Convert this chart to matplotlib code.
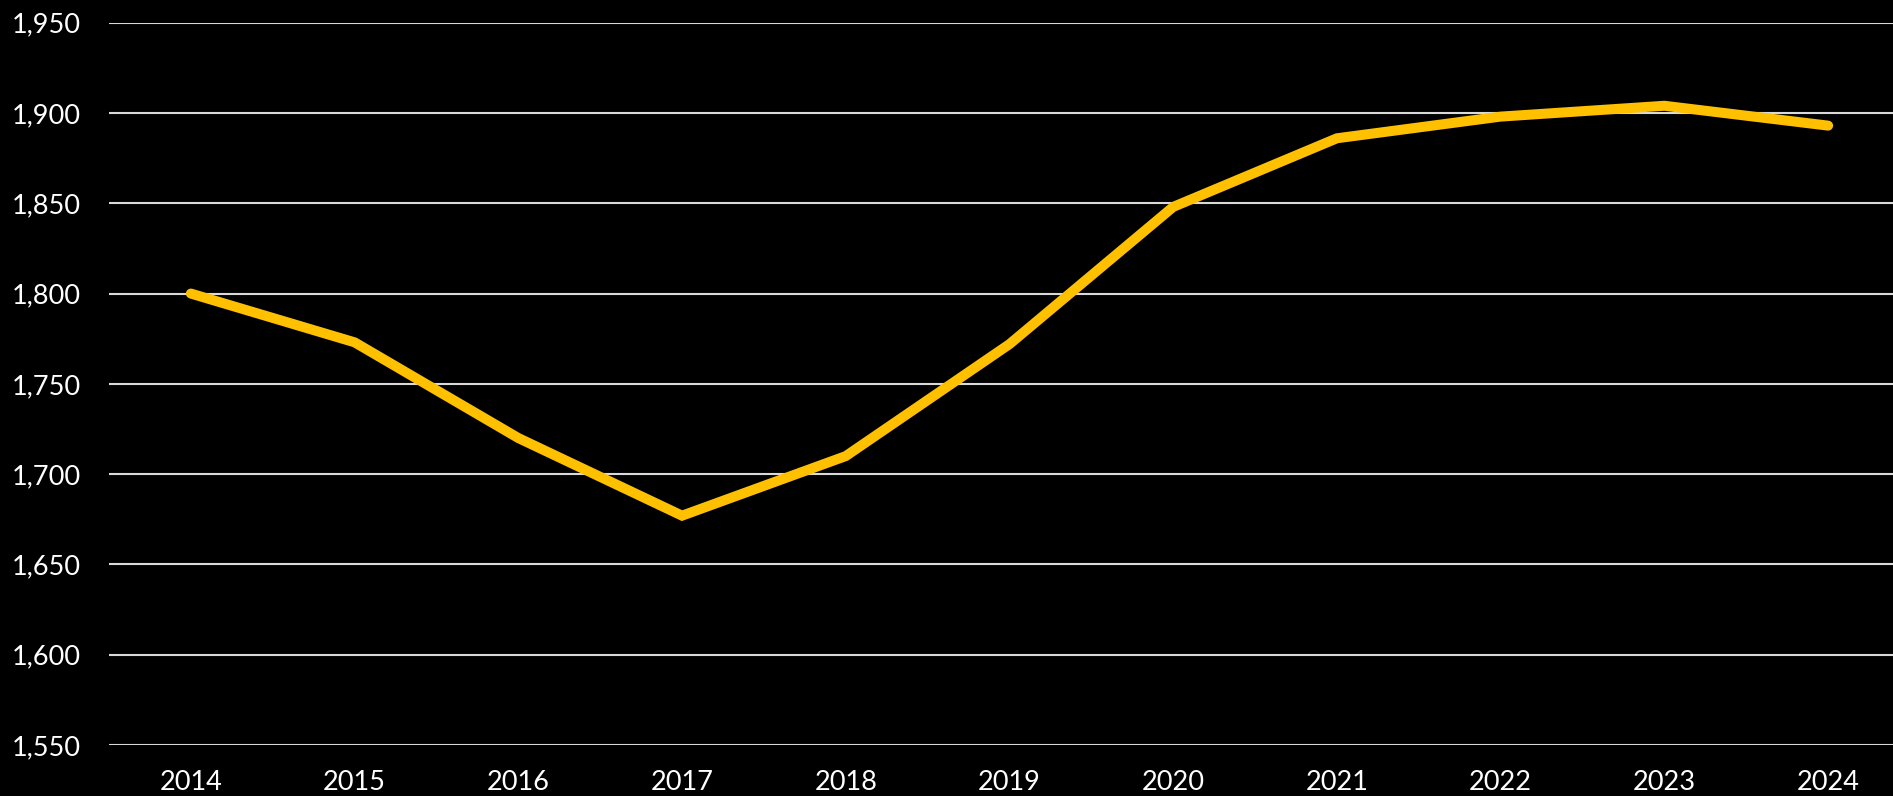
import matplotlib
matplotlib.use('Agg')
import matplotlib.pyplot as plt
from matplotlib.ticker import FuncFormatter

years = ['2014', '2015', '2016', '2017', '2018', '2019', '2020', '2021', '2022', '2023', '2024']
values = [1800, 1773, 1720, 1677, 1710, 1772, 1848, 1886, 1898, 1904, 1893]
y_ticks = [1550, 1600, 1650, 1700, 1750, 1800, 1850, 1900, 1950]

plt.rcParams['font.family'] = ['Lato', 'DejaVu Sans']

fig = plt.figure(figsize=(18.93, 7.96), dpi=100, facecolor='black')
ax = fig.add_axes([109 / 1893, 51 / 796, 1801 / 1893, 722.3 / 796])
ax.set_facecolor('black')

x = list(range(len(years)))
ax.plot(x, values, color='#FFC000', linewidth=7.2, solid_capstyle='round',
        solid_joinstyle='miter', zorder=3)

ax.set_xlim(-0.5, len(years) - 0.5)
ax.set_ylim(1550, 1950)
ax.set_yticks(y_ticks)
ax.yaxis.set_major_formatter(FuncFormatter(lambda v, p: '{:,.0f}'.format(v)))
ax.set_xticks(x)
ax.set_xticklabels(years)

ax.grid(axis='y', color='#D9D9D9', linewidth=1.5, zorder=1)
ax.set_axisbelow(True)
for s in ax.spines.values():
    s.set_visible(False)
ax.tick_params(axis='both', length=0, colors='white', labelsize=19.5)
ax.tick_params(axis='y', pad=20)
ax.tick_params(axis='x', pad=18)

fig.savefig('out.png', dpi=100, facecolor='black')
